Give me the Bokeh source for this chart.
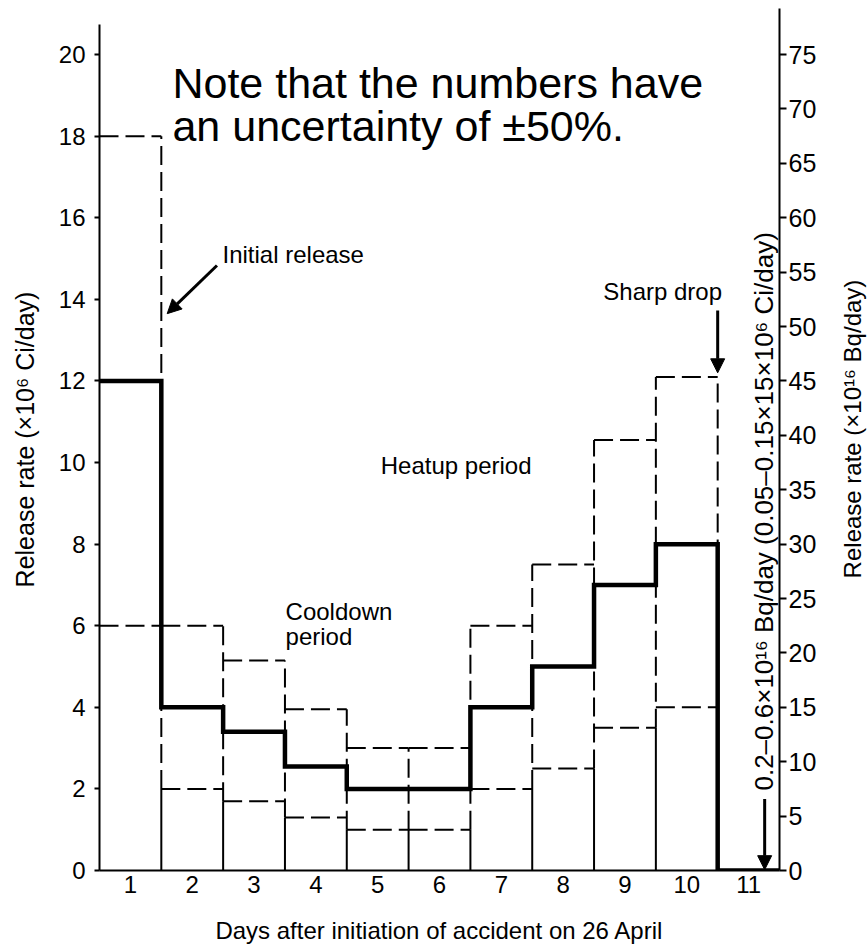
import numpy as np
from bokeh.plotting import figure
from bokeh.layouts import row
from bokeh.models import Range1d, LinearAxis, FixedTicker, Label, Arrow, NormalHead
from bokeh.embed import file_html
from bokeh.resources import INLINE

# ---- data ----
days = [1, 2, 3, 4, 5, 6, 7, 8, 9, 10, 11]
central = [12.0, 4.0, 3.4, 2.55, 2.0, 2.0, 4.0, 5.0, 7.0, 8.0, 0.0]
upper = [18.0, 6.0, 5.15, 3.95, 3.0, 3.0, 6.0, 7.5, 10.55, 12.1, 0.0]
lower = [6.0, 2.0, 1.7, 1.3, 1.0, 1.0, 2.0, 2.5, 3.5, 4.0, 0.0]
left_ticks = [0, 2, 4, 6, 8, 10, 12, 14, 16, 18, 20]
right_ticks = [0, 5, 10, 15, 20, 25, 30, 35, 40, 45, 50, 55, 60, 65, 70, 75]
scale_ratio = 3.75  # right-axis units per left-axis unit, as drawn

FONT = "Liberation Sans"
H = 947
W_MAIN = 837
W_SIDE = 30
Y_MAX = 21.13

d = np.array(days, dtype=float)
c = np.array(central)
up = np.array(upper)
lo = np.array(lower)

p = figure(width=W_MAIN, height=H,
           x_range=Range1d(d[0] - 0.5, d[-1] + 0.5),
           y_range=Range1d(0, Y_MAX),
           output_backend="svg", toolbar_location=None,
           min_border_left=99, min_border_right=58,
           min_border_top=8, min_border_bottom=77)
p.outline_line_color = None
p.xgrid.visible = False
p.ygrid.visible = False
p.background_fill_color = "white"

p.extra_y_ranges = {"bq": Range1d(0, Y_MAX * scale_ratio)}
rax = LinearAxis(y_range_name="bq", ticker=FixedTicker(ticks=right_ticks))
p.add_layout(rax, "right")

# axes styling
for ax in [p.xaxis[0], p.yaxis[0], rax]:
    ax.axis_line_color = "black"
    ax.axis_line_width = 2
    ax.major_tick_line_color = "black"
    ax.major_tick_line_width = 2
    ax.minor_tick_line_color = None
    ax.major_label_text_font = FONT
    ax.major_label_text_font_size = "24px"
    ax.major_label_text_color = "black"
    ax.axis_label_text_font = FONT
    ax.axis_label_text_font_style = "normal"
    ax.axis_label_text_color = "black"

xa = p.xaxis[0]
xa.ticker = FixedTicker(ticks=days)
xa.major_tick_out = 0
xa.major_tick_in = 0
xa.major_label_standoff = 5
xa.axis_label = "Days after initiation of accident on 26 April"
xa.axis_label_text_font_size = "24px"
xa.axis_label_standoff = 21

ya = p.yaxis[0]
ya.ticker = FixedTicker(ticks=left_ticks)
ya.major_tick_out = 5
ya.major_tick_in = 0
ya.major_label_standoff = 9
ya.bounds = (0, 20.75)
ya.axis_label = "Release rate (×10⁶ Ci/day)"
ya.axis_label_text_font_size = "25px"
ya.axis_label_standoff = 17

rax.major_tick_out = 7
rax.major_tick_in = 0
rax.major_label_standoff = 2
rax.major_label_text_font_size = "25px"

dash = "19 7"

# bin boundaries: solid from 0 to the lower bound, dashed up to the upper bound
bx = d[:-1] + 0.5
lo_min = np.minimum(lo[:-1], lo[1:])
up_max = np.maximum(up[:-1], up[1:])
p.segment(x0=bx, y0=np.zeros_like(bx), x1=bx, y1=lo_min, line_color="black", line_width=2)
p.segment(x0=bx, y0=lo_min, x1=bx, y1=up_max, line_color="black", line_width=2, line_dash=dash)

# upper / lower bounds (dashed)
m = up > 0
p.segment(x0=d[m] - 0.5, y0=up[m], x1=d[m] + 0.5, y1=up[m], line_color="black", line_width=2, line_dash=dash)
p.segment(x0=d[m] - 0.5, y0=lo[m], x1=d[m] + 0.5, y1=lo[m], line_color="black", line_width=2, line_dash=dash)

# central estimate (thick step)
xs = np.append(d - 0.5, d[-1] + 0.5)
ys = np.append(c, c[-1])
p.step(xs, ys, mode="after", line_color="black", line_width=4.5, line_join="miter")

def lab(fig, x, y, text, size="24px", align="left", baseline="alphabetic", angle=0.0):
    fig.add_layout(Label(x=x, y=y, text=text, text_font=FONT, text_font_size=size,
                         text_color="black", text_align=align, text_baseline=baseline,
                         angle=angle))

lab(p, 1.68, 19.30, "Note that the numbers have", size="43px")
lab(p, 1.68, 18.25, "an uncertainty of ±50%.", size="43px")
lab(p, 2.49, 15.1, "Initial release")
lab(p, 9.61, 14.2, "Sharp drop", align="center")
lab(p, 5.05, 9.93, "Heatup period")
lab(p, 3.51, 6.35, "Cooldown")
lab(p, 3.51, 5.74, "period")
lab(p, 11.25, 1.96, "0.2–0.6×10¹⁶ Bq/day (0.05–0.15×15×10⁶ Ci/day)", size="26px",
    baseline="middle", angle=np.pi / 2)

def arrow(x0, y0, x1, y1):
    p.add_layout(Arrow(end=NormalHead(size=14, fill_color="black", line_color="black"),
                       x_start=x0, y_start=y0, x_end=x1, y_end=y1,
                       line_color="black", line_width=3))

arrow(2.40, 14.83, 1.595, 13.65)
arrow(10.5, 13.73, 10.5, 12.2)
arrow(11.26, 1.75, 11.26, 0.02)

# narrow side panel holding the right-hand axis title (reads bottom to top)
side = figure(width=W_SIDE, height=H, x_range=Range1d(0, 1), y_range=Range1d(0, H),
              output_backend="svg", toolbar_location=None,
              x_axis_location=None, y_axis_location=None,
              min_border_left=0, min_border_right=0, min_border_top=0, min_border_bottom=0)
side.outline_line_color = None
side.xgrid.visible = False
side.ygrid.visible = False
lab(side, 0.5, H - 462, "Release rate (×10¹⁶ Bq/day)", size="24px", align="center",
    baseline="middle", angle=np.pi / 2)

layout = row(p, side, spacing=0)
open("out.html", "w").write(file_html(layout, INLINE))
